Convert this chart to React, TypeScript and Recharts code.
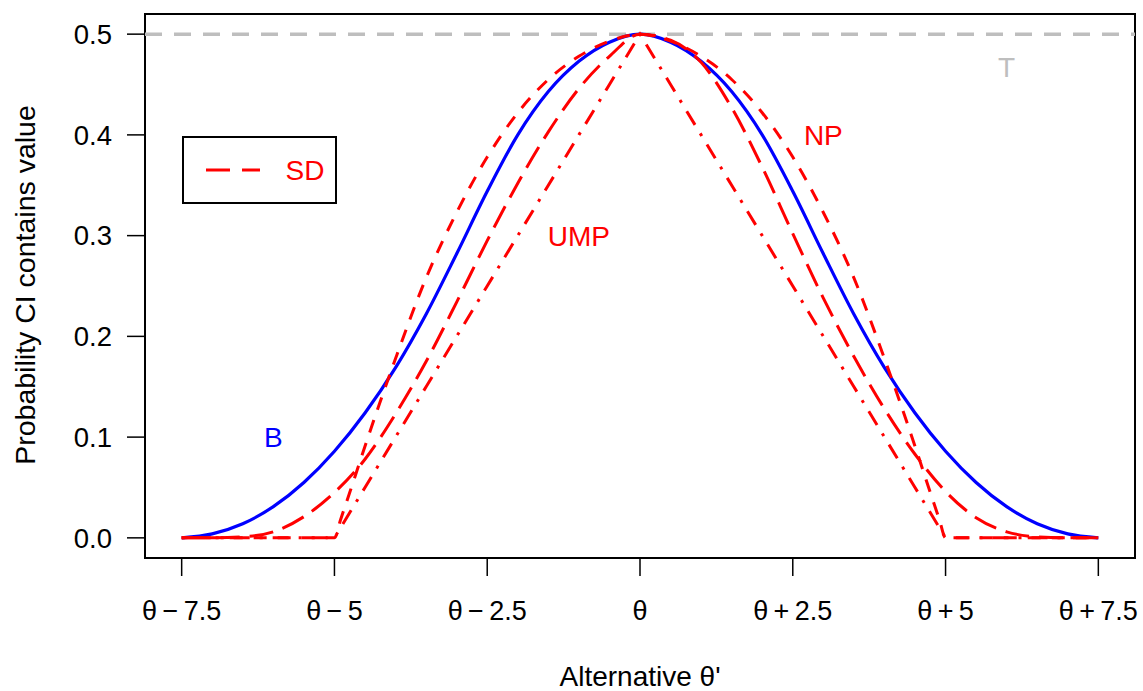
import {
  Label,
  Legend,
  Line,
  LineChart,
  ReferenceArea,
  ReferenceDot,
  ReferenceLine,
  XAxis,
  YAxis,
} from "recharts";

const C = {
  red: "#ff0000",
  blue: "#0000ff",
  grey: "#bebebe",
  ink: "#000000",
};

const FONT = '"Liberation Sans", Arial, Helvetica, sans-serif';

// theta' - theta, step 0.5
const shift = [
  -7.5, -7, -6.5, -6, -5.5, -5, -4.5, -4, -3.5, -3, -2.5, -2, -1.5, -1, -0.5, 0,
  0.5, 1, 1.5, 2, 2.5, 3, 3.5, 4, 4.5, 5, 5.5, 6, 6.5, 7, 7.5,
];

const bProb = [
  0, 0.004, 0.014, 0.031, 0.055, 0.086, 0.124, 0.169, 0.222, 0.282, 0.344,
  0.4, 0.443, 0.473, 0.492, 0.5, 0.492, 0.473, 0.443, 0.4, 0.344, 0.282,
  0.222, 0.169, 0.124, 0.086, 0.055, 0.031, 0.014, 0.004, 0,
];

const sdProb = [
  0, 0, 0.001, 0.006, 0.021, 0.045, 0.078, 0.123, 0.175, 0.234, 0.295, 0.352,
  0.403, 0.446, 0.478, 0.5, 0.494, 0.472, 0.427, 0.368, 0.302, 0.238, 0.18,
  0.128, 0.083, 0.046, 0.02, 0.006, 0.001, 0, 0,
];

// NP has a corner at +-5, so it gets its own grid
const npShift = [
  -7.5, -5, -4.9, -4.75, -4.5, -4, -3.5, -3, -2.5, -2, -1.5, -1, -0.5, 0, 0.5,
  1, 1.5, 2, 2.5, 3, 3.5, 4, 4.5, 4.75, 4.9, 5, 7.5,
];

const npProb = [
  0, 0, 0.018, 0.045, 0.091, 0.178, 0.258, 0.323, 0.378, 0.422, 0.455, 0.478,
  0.493, 0.5, 0.493, 0.478, 0.455, 0.422, 0.378, 0.323, 0.258, 0.178, 0.091,
  0.045, 0.018, 0, 0,
];

const umpProb = [
  0, 0, 0, 0, 0, 0, 0.05, 0.1, 0.15, 0.2, 0.25, 0.3, 0.35, 0.4, 0.45, 0.5,
  0.45, 0.4, 0.35, 0.3, 0.25, 0.2, 0.15, 0.1, 0.05, 0, 0, 0, 0, 0, 0,
];

const xTicks = [-7.5, -5, -2.5, 0, 2.5, 5, 7.5];
const yTicks = [0, 0.1, 0.2, 0.3, 0.4, 0.5];
const target = 0.5;

// in-plot curve names (data coordinates)
const notes = [
  { text: "B", x: -6, y: 0.1, color: C.blue },
  { text: "UMP", x: -1, y: 0.3, color: C.red },
  { text: "NP", x: 3, y: 0.4, color: C.red },
  { text: "T", x: 6, y: 0.467, color: C.grey },
];

const rows = shift.map((x, i) => ({
  x,
  B: bProb[i],
  SD: sdProb[i],
  UMP: umpProb[i],
}));

const npRows = npShift.map((x, i) => ({ x, NP: npProb[i] }));

function fmtTheta(v: number) {
  if (v === 0) return "θ";
  const sign = v < 0 ? "\u2212" : "+";
  return `θ\u2009${sign}\u2009${Math.abs(v)}`;
}

function XTitle(props: any) {
  const vb = props.viewBox || { x: 145, width: 990 };
  return (
    <text x={vb.x + vb.width / 2} y={686} textAnchor="middle" fontSize={28} fill={C.ink}>
      Alternative θ'
    </text>
  );
}

function YTitle() {
  return (
    <text
      x={35}
      y={285}
      transform="rotate(-90 35 285)"
      textAnchor="middle"
      fontSize={28.5}
      fill={C.ink}
    >
      Probability CI contains value
    </text>
  );
}

function SdLegend(props: any) {
  const item = (props.payload || []).find((p: any) => p.value === "SD");
  return (
    <div
      style={{
        boxSizing: "border-box",
        width: 155,
        height: 68,
        border: `2px solid ${C.ink}`,
        background: "#fff",
        position: "relative",
      }}
    >
      <svg width={151} height={64} style={{ position: "absolute", left: 0, top: 0 }}>
        <line x1={22} x2={76} y1={32} y2={32} stroke={C.red} strokeWidth={3} strokeDasharray="24 12" />
        <text x={121} y={32} textAnchor="middle" dominantBaseline="central" fontSize={28} fill={C.red}>
          {item ? item.value : "SD"}
        </text>
      </svg>
    </div>
  );
}

export default function App() {
  return (
    <div style={{ width: 1143, height: 691, fontFamily: FONT, background: "#fff" }}>
      <style>{`body{margin:0}`}</style>
      <LineChart width={1143} height={691} data={rows} margin={{ top: 14, right: 8, bottom: 0, left: 0 }}>
        <XAxis
          dataKey="x"
          type="number"
          domain={[-8.1, 8.1]}
          ticks={xTicks}
          interval={0}
          tickFormatter={fmtTheta}
          height={133}
          tickSize={18}
          tickMargin={25}
          axisLine={false}
          tickLine={{ stroke: C.ink, strokeWidth: 1.5 }}
          tick={{ fill: C.ink, fontSize: 27 }}
          allowDataOverflow
        >
          <Label content={<XTitle />} />
        </XAxis>
        <YAxis
          type="number"
          domain={[-0.02, 0.52]}
          ticks={yTicks}
          interval={0}
          tickFormatter={(v: number) => v.toFixed(1)}
          width={145}
          tickSize={18}
          tickMargin={15}
          axisLine={false}
          tickLine={{ stroke: C.ink, strokeWidth: 1.5 }}
          tick={{ fill: C.ink, fontSize: 27.5 }}
          allowDataOverflow
        >
          <Label content={<YTitle />} />
        </YAxis>
        <ReferenceLine y={target} stroke={C.grey} strokeWidth={3.5} strokeDasharray="17 12" />
        <Line
          dataKey="B"
          type="monotone"
          stroke={C.blue}
          strokeWidth={3.2}
          dot={false}
          legendType="none"
          isAnimationActive={false}
        />
        <Line
          dataKey="SD"
          type="monotone"
          stroke={C.red}
          strokeWidth={3}
          strokeDasharray="24 10"
          dot={false}
          isAnimationActive={false}
        />
        <Line
          data={npRows}
          dataKey="NP"
          type="monotone"
          stroke={C.red}
          strokeWidth={3}
          strokeDasharray="13 11"
          dot={false}
          legendType="none"
          isAnimationActive={false}
        />
        <Line
          dataKey="UMP"
          type="linear"
          stroke={C.red}
          strokeWidth={3}
          strokeDasharray="3 10 16 10"
          dot={false}
          legendType="none"
          isAnimationActive={false}
        />
        <ReferenceArea
          x1={-8.1}
          x2={8.1}
          y1={-0.02}
          y2={0.52}
          fill="none"
          fillOpacity={0}
          stroke={C.ink}
          strokeWidth={2}
          ifOverflow="visible"
        />
        {notes.map((n) => (
          <ReferenceDot
            key={n.text}
            x={n.x}
            y={n.y}
            r={1}
            fill="none"
            stroke="none"
            ifOverflow="visible"
            label={{ value: n.text, position: "center", fill: n.color, fontSize: 28 }}
          />
        ))}
        <Legend
          layout="horizontal"
          verticalAlign="middle"
          align="center"
          wrapperStyle={{ left: 182, top: 136, width: 155, height: 68 }}
          content={<SdLegend />}
        />
      </LineChart>
    </div>
  );
}
